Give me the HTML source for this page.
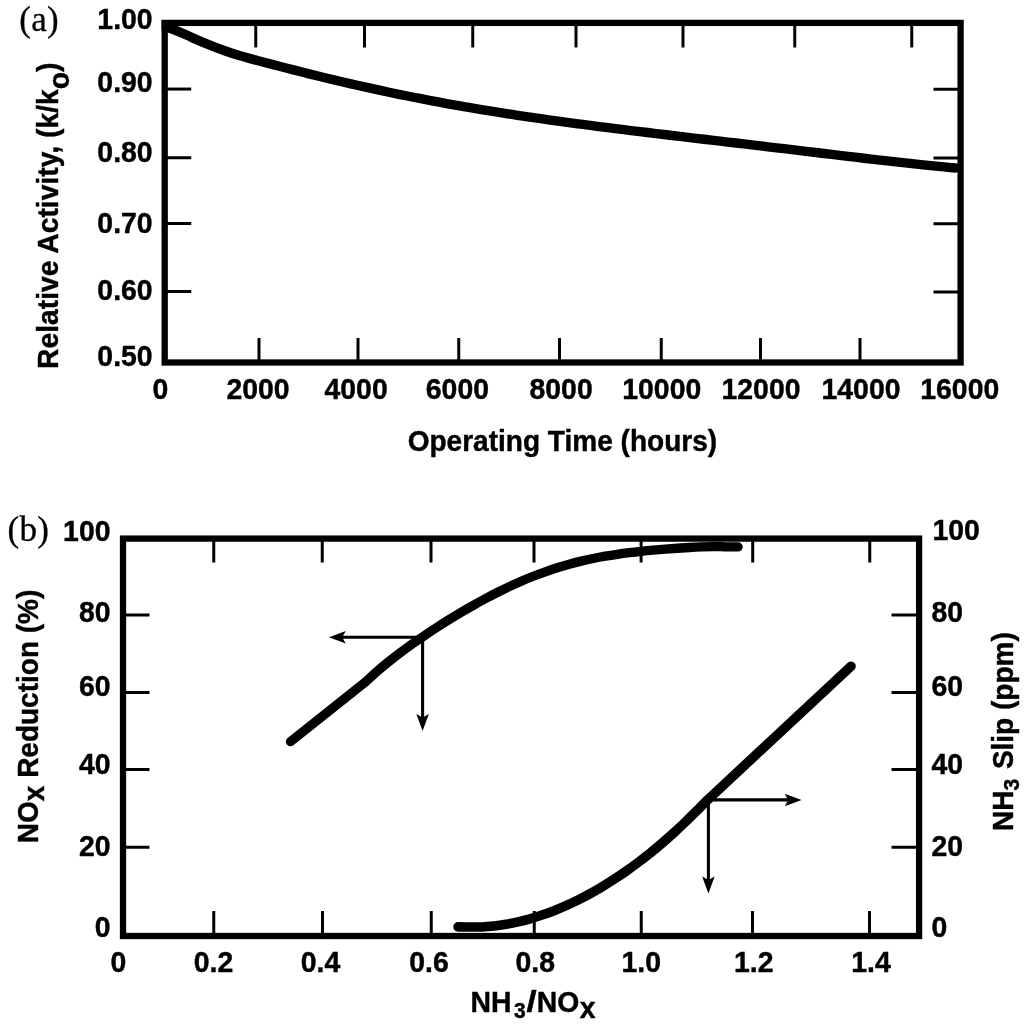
<!DOCTYPE html>
<html lang="en"><head><meta charset="utf-8"><title>Figure</title>
<style>
html,body{margin:0;padding:0;background:#fff;}
body{width:1024px;height:1024px;overflow:hidden;}
svg{display:block;}
text{font-family:"Liberation Sans",sans-serif;font-weight:bold;font-size:28.4px;fill:#000;stroke:#000;stroke-width:0.42px;}
text.ser{font-family:"Liberation Serif",serif;font-weight:normal;font-size:35px;stroke-width:0.3px;letter-spacing:0.3px;}
.fr{fill:none;stroke:#000;stroke-width:6.3;stroke-linejoin:miter;}
.tk{fill:none;stroke:#000;stroke-width:3;}
.cv{fill:none;stroke:#000;stroke-width:9.4;stroke-linecap:round;stroke-linejoin:round;}
.cb{stroke-width:9.3;}
.cb2{stroke-width:9.6;}
.ar{fill:none;stroke:#000;stroke-width:3.1;}
.ah{fill:#000;stroke:none;}
</style></head><body>
<svg width="1024" height="1024" viewBox="0 0 1024 1024">
<rect x="0" y="0" width="1024" height="1024" fill="#fff"/>

<g id="chart-a">
<clipPath id="clipA"><rect x="161.55" y="19.75" width="802.2" height="345.9"/></clipPath>
<path class="cv" clip-path="url(#clipA)" d="M160.00 24.50 C160.83 24.83 161.88 25.32 165.00 26.50 C168.12 27.68 174.25 29.75 178.75 31.60 C183.25 33.45 187.12 35.47 192.00 37.60 C196.88 39.73 202.67 42.25 208.00 44.40 C213.33 46.55 218.67 48.60 224.00 50.50 C229.33 52.40 234.67 54.19 240.00 55.80 C245.33 57.41 250.67 58.70 256.00 60.13 C261.33 61.56 266.67 62.96 272.00 64.35 C277.33 65.75 282.67 67.13 288.00 68.50 C293.33 69.87 298.67 71.22 304.00 72.56 C309.33 73.90 314.67 75.22 320.00 76.52 C325.33 77.82 330.67 79.11 336.00 80.37 C341.33 81.64 346.67 82.88 352.00 84.10 C357.33 85.33 362.67 86.53 368.00 87.71 C373.33 88.89 378.67 90.05 384.00 91.19 C389.33 92.33 394.67 93.44 400.00 94.54 C405.33 95.63 410.67 96.70 416.00 97.75 C421.33 98.81 426.67 99.83 432.00 100.84 C437.33 101.85 442.67 102.84 448.00 103.80 C453.33 104.77 458.67 105.71 464.00 106.64 C469.33 107.56 474.67 108.47 480.00 109.36 C485.33 110.24 490.67 111.11 496.00 111.96 C501.33 112.81 506.67 113.64 512.00 114.46 C517.33 115.28 522.67 116.08 528.00 116.86 C533.33 117.65 538.67 118.42 544.00 119.17 C549.33 119.93 554.67 120.67 560.00 121.40 C565.33 122.13 570.67 122.85 576.00 123.56 C581.33 124.27 586.67 124.96 592.00 125.65 C597.33 126.34 602.67 127.02 608.00 127.69 C613.33 128.36 618.67 129.02 624.00 129.68 C629.33 130.34 634.67 130.99 640.00 131.63 C645.33 132.28 650.67 132.92 656.00 133.56 C661.33 134.20 666.67 134.83 672.00 135.47 C677.33 136.10 682.67 136.73 688.00 137.36 C693.33 137.99 698.67 138.61 704.00 139.24 C709.33 139.87 714.67 140.50 720.00 141.12 C725.33 141.75 730.67 142.38 736.00 143.01 C741.33 143.64 746.67 144.27 752.00 144.90 C757.33 145.53 762.67 146.16 768.00 146.80 C773.33 147.43 778.67 148.06 784.00 148.70 C789.33 149.34 794.67 149.97 800.00 150.61 C805.33 151.25 810.67 151.89 816.00 152.53 C821.33 153.17 826.67 153.80 832.00 154.44 C837.33 155.08 842.67 155.71 848.00 156.34 C853.33 156.98 858.67 157.61 864.00 158.23 C869.33 158.86 874.67 159.48 880.00 160.09 C885.33 160.70 890.67 161.31 896.00 161.90 C901.33 162.50 906.67 163.08 912.00 163.66 C917.33 164.23 922.67 164.79 928.00 165.33 C933.33 165.87 939.42 166.46 944.00 166.90 C948.58 167.34 953.58 167.78 955.50 167.96"/>
<rect class="fr" x="164.70" y="22.90" width="795.90" height="339.60"/>
<line class="tk" x1="164.70" y1="89.05" x2="191.25" y2="89.05"/>
<line class="tk" x1="164.70" y1="157.75" x2="191.25" y2="157.75"/>
<line class="tk" x1="164.70" y1="223.50" x2="191.25" y2="223.50"/>
<line class="tk" x1="164.70" y1="291.50" x2="191.25" y2="291.50"/>
<line class="tk" x1="933.5" y1="89.25" x2="960.60" y2="89.25"/>
<line class="tk" x1="933.5" y1="158.00" x2="960.60" y2="158.00"/>
<line class="tk" x1="933.5" y1="223.75" x2="960.60" y2="223.75"/>
<line class="tk" x1="933.5" y1="292.00" x2="960.60" y2="292.00"/>
<line class="tk" x1="259.00" y1="338" x2="259.00" y2="362.50"/>
<line class="tk" x1="358.00" y1="338" x2="358.00" y2="362.50"/>
<line class="tk" x1="458.75" y1="338" x2="458.75" y2="362.50"/>
<line class="tk" x1="559.50" y1="338" x2="559.50" y2="362.50"/>
<line class="tk" x1="661.25" y1="338" x2="661.25" y2="362.50"/>
<line class="tk" x1="760.50" y1="338" x2="760.50" y2="362.50"/>
<line class="tk" x1="860.00" y1="338" x2="860.00" y2="362.50"/>
<line class="tk" x1="255.75" y1="22.90" x2="255.75" y2="47.5"/>
<line class="tk" x1="364.50" y1="22.90" x2="364.50" y2="47.5"/>
<line class="tk" x1="472.75" y1="22.90" x2="472.75" y2="47.5"/>
<line class="tk" x1="576.00" y1="22.90" x2="576.00" y2="47.5"/>
<line class="tk" x1="683.00" y1="22.90" x2="683.00" y2="47.5"/>
<line class="tk" x1="794.75" y1="22.90" x2="794.75" y2="47.5"/>
<line class="tk" x1="911.75" y1="22.90" x2="911.75" y2="47.5"/>
<text transform="translate(152.60 29.00) scale(1 1.050)" text-anchor="end">1.00</text>
<text transform="translate(152.60 92.10) scale(1 1.050)" text-anchor="end">0.90</text>
<text transform="translate(152.60 162.00) scale(1 1.050)" text-anchor="end">0.80</text>
<text transform="translate(152.60 232.80) scale(1 1.050)" text-anchor="end">0.70</text>
<text transform="translate(152.60 300.30) scale(1 1.050)" text-anchor="end">0.60</text>
<text transform="translate(152.60 366.10) scale(1 1.050)" text-anchor="end">0.50</text>
<text transform="translate(160.50 399.10) scale(1 1.050)" text-anchor="middle">0</text>
<text transform="translate(258.00 399.10) scale(1 1.050)" text-anchor="middle">2000</text>
<text transform="translate(356.10 399.10) scale(1 1.050)" text-anchor="middle">4000</text>
<text transform="translate(457.40 399.10) scale(1 1.050)" text-anchor="middle">6000</text>
<text transform="translate(561.10 399.10) scale(1 1.050)" text-anchor="middle">8000</text>
<text transform="translate(661.75 399.10) scale(1 1.050)" text-anchor="middle">10000</text>
<text transform="translate(761.00 399.10) scale(1 1.050)" text-anchor="middle">12000</text>
<text transform="translate(861.00 399.10) scale(1 1.050)" text-anchor="middle">14000</text>
<text transform="translate(959.75 399.10) scale(1 1.050)" text-anchor="middle">16000</text>
<text transform="translate(562.40 450.80) scale(1 1.025)" text-anchor="middle"><tspan font-size="28.05">Operating Time (hours)</tspan></text>
<text style="font-size:28.3px" transform="translate(58.30 369.00) rotate(-90) scale(1 1.025)">Relative Activity, (k/k<tspan dy="10">o</tspan><tspan dy="-10">)</tspan></text>
<text class="ser" transform="translate(19.30 31.00) scale(1 1.000)">(a)</text>
</g>
<g id="chart-b">
<path class="cv cb" d="M290.5 741.6 L365.25 682.21 C367.25 680.38 373.25 674.74 377.25 671.24 C381.25 667.75 385.25 664.46 389.25 661.25 C393.25 658.05 397.25 654.99 401.25 652.00 C405.25 649.01 409.25 646.13 413.25 643.30 C417.25 640.48 421.25 637.74 425.25 635.04 C429.25 632.35 433.25 629.72 437.25 627.15 C441.25 624.57 445.25 622.04 449.25 619.57 C453.25 617.09 457.25 614.67 461.25 612.30 C465.25 609.93 469.25 607.61 473.25 605.35 C477.25 603.09 481.25 600.88 485.25 598.74 C489.25 596.59 493.25 594.51 497.25 592.49 C501.25 590.48 505.25 588.52 509.25 586.65 C513.25 584.77 517.25 582.96 521.25 581.23 C525.25 579.50 529.25 577.84 533.25 576.27 C537.25 574.69 541.25 573.19 545.25 571.78 C549.25 570.36 553.25 569.02 557.25 567.76 C561.25 566.50 565.25 565.32 569.25 564.22 C573.25 563.11 577.25 562.09 581.25 561.13 C585.25 560.17 589.25 559.29 593.25 558.47 C597.25 557.65 601.25 556.90 605.25 556.20 C609.25 555.51 613.25 554.88 617.25 554.29 C621.25 553.70 625.25 553.17 629.25 552.67 C633.25 552.17 637.25 551.72 641.25 551.30 C645.25 550.87 649.25 550.49 653.25 550.13 C657.25 549.76 661.25 549.43 665.25 549.12 C669.25 548.80 673.25 548.51 677.25 548.25 C681.25 547.98 685.25 547.73 689.25 547.51 C693.25 547.29 697.25 547.08 701.25 546.93 C705.25 546.77 709.25 546.59 713.25 546.57 C717.25 546.55 721.11 546.74 725.25 546.80 C729.39 546.86 735.96 546.88 738.10 546.90"/>
<path class="cv cb2" d="M458.00 926.85 C460.00 926.88 466.00 926.98 470.00 927.00 C474.00 927.02 478.00 927.16 482.00 927.00 C486.00 926.84 490.00 926.50 494.00 926.06 C498.00 925.61 502.00 925.02 506.00 924.33 C510.00 923.64 514.00 922.83 518.00 921.91 C522.00 920.99 526.00 919.96 530.00 918.82 C534.00 917.67 538.00 916.42 542.00 915.06 C546.00 913.70 550.00 912.23 554.00 910.66 C558.00 909.09 562.00 907.41 566.00 905.63 C570.00 903.85 574.00 901.96 578.00 899.97 C582.00 897.99 586.00 895.90 590.00 893.70 C594.00 891.51 598.00 889.22 602.00 886.82 C606.00 884.42 610.00 881.93 614.00 879.33 C618.00 876.73 622.00 874.03 626.00 871.22 C630.00 868.42 634.00 865.52 638.00 862.51 C642.00 859.50 646.00 856.39 650.00 853.18 C654.00 849.97 658.00 846.65 662.00 843.23 C666.00 839.80 670.00 836.28 674.00 832.64 C678.00 829.01 682.00 825.26 686.00 821.41 C690.00 817.56 694.50 813.03 698.00 809.52 C701.50 806.02 705.50 801.92 707.00 800.40 L770 741.7 L851 666.25"/>
<rect class="fr" x="123.00" y="538.60" width="796.10" height="397.40"/>
<line class="tk" x1="123.00" y1="615.00" x2="149.5" y2="615.00"/>
<line class="tk" x1="891.5" y1="615.00" x2="919.10" y2="615.00"/>
<line class="tk" x1="123.00" y1="692.50" x2="149.5" y2="692.50"/>
<line class="tk" x1="891.5" y1="692.50" x2="919.10" y2="692.50"/>
<line class="tk" x1="123.00" y1="769.50" x2="149.5" y2="769.50"/>
<line class="tk" x1="891.5" y1="769.50" x2="919.10" y2="769.50"/>
<line class="tk" x1="123.00" y1="847.25" x2="149.5" y2="847.25"/>
<line class="tk" x1="891.5" y1="847.25" x2="919.10" y2="847.25"/>
<line class="tk" x1="213.75" y1="911" x2="213.75" y2="936.00"/>
<line class="tk" x1="322.50" y1="911" x2="322.50" y2="936.00"/>
<line class="tk" x1="431.25" y1="911" x2="431.25" y2="936.00"/>
<line class="tk" x1="534.25" y1="911" x2="534.25" y2="936.00"/>
<line class="tk" x1="641.25" y1="911" x2="641.25" y2="936.00"/>
<line class="tk" x1="752.50" y1="911" x2="752.50" y2="936.00"/>
<line class="tk" x1="869.50" y1="911" x2="869.50" y2="936.00"/>
<line class="tk" x1="213.75" y1="538.60" x2="213.75" y2="562.5"/>
<line class="tk" x1="322.25" y1="538.60" x2="322.25" y2="562.5"/>
<line class="tk" x1="431.00" y1="538.60" x2="431.00" y2="562.5"/>
<line class="tk" x1="534.00" y1="538.60" x2="534.00" y2="562.5"/>
<line class="tk" x1="641.10" y1="538.60" x2="641.10" y2="562.5"/>
<line class="tk" x1="752.70" y1="538.60" x2="752.70" y2="562.5"/>
<line class="tk" x1="869.75" y1="538.60" x2="869.75" y2="562.5"/>
<line class="ar" x1="417.00" y1="637.20" x2="341.00" y2="637.20"/>
<path class="ah" d="M328.90 637.20 L345.80 630.95 L342.20 637.20 L345.80 643.45 Z"/>
<line class="ar" x1="422.60" y1="638.00" x2="422.60" y2="718.80"/>
<path class="ah" d="M422.60 730.90 L416.35 714.00 L422.60 717.60 L428.85 714.00 Z"/>
<line class="ar" x1="708.40" y1="799.90" x2="789.50" y2="799.90"/>
<path class="ah" d="M801.60 799.90 L784.70 806.15 L788.30 799.90 L784.70 793.65 Z"/>
<line class="ar" x1="708.40" y1="799.00" x2="708.40" y2="881.30"/>
<path class="ah" d="M708.40 893.40 L702.15 876.50 L708.40 880.10 L714.65 876.50 Z"/>
<text transform="translate(110.50 540.80) scale(1 1.050)" text-anchor="end">100</text>
<text transform="translate(110.50 621.60) scale(1 1.050)" text-anchor="end">80</text>
<text transform="translate(110.50 695.60) scale(1 1.050)" text-anchor="end">60</text>
<text transform="translate(110.50 774.20) scale(1 1.050)" text-anchor="end">40</text>
<text transform="translate(110.50 855.80) scale(1 1.050)" text-anchor="end">20</text>
<text transform="translate(110.50 936.60) scale(1 1.050)" text-anchor="end">0</text>
<text transform="translate(932.40 540.10) scale(1 1.050)">100</text>
<text transform="translate(931.50 622.00) scale(1 1.050)">80</text>
<text transform="translate(931.50 696.20) scale(1 1.050)">60</text>
<text transform="translate(931.50 774.30) scale(1 1.050)">40</text>
<text transform="translate(931.50 855.50) scale(1 1.050)">20</text>
<text transform="translate(931.50 936.50) scale(1 1.050)">0</text>
<text transform="translate(118.40 972.40) scale(1 1.050)" text-anchor="middle">0</text>
<text transform="translate(213.50 972.40) scale(1 1.050)" text-anchor="middle">0.2</text>
<text transform="translate(320.50 972.40) scale(1 1.050)" text-anchor="middle">0.4</text>
<text transform="translate(429.00 972.40) scale(1 1.050)" text-anchor="middle">0.6</text>
<text transform="translate(535.25 972.40) scale(1 1.050)" text-anchor="middle">0.8</text>
<text transform="translate(641.25 972.40) scale(1 1.050)" text-anchor="middle">1.0</text>
<text transform="translate(753.75 972.40) scale(1 1.050)" text-anchor="middle">1.2</text>
<text transform="translate(871.00 972.40) scale(1 1.050)" text-anchor="middle">1.4</text>
<text transform="translate(470.50 1012.40) scale(1 1.050)">NH<tspan dx="2.5" dy="5.15" font-size="21">3</tspan><tspan dx="11.0" dy="-5.15">NO</tspan><tspan dx="0.6" dy="5.7">x</tspan></text>
<text transform="translate(526.4 1012.4) scale(1.28 1.05)">/</text>
<text style="font-size:28.0px" transform="translate(37.90 843.20) rotate(-90) scale(1 1.025)">NO<tspan dy="6">x</tspan><tspan dy="-6"> Reduction (%)</tspan></text>
<text style="font-size:28.0px" transform="translate(1013.40 831.00) rotate(-90) scale(1 1.025)">NH<tspan dy="5.15" font-size="21">3</tspan><tspan dx="2" dy="-5.15"> Slip (ppm)</tspan></text>
<text class="ser" transform="translate(7.50 540.60) scale(1 1.000)">(b)</text>
</g>
</svg></body></html>
